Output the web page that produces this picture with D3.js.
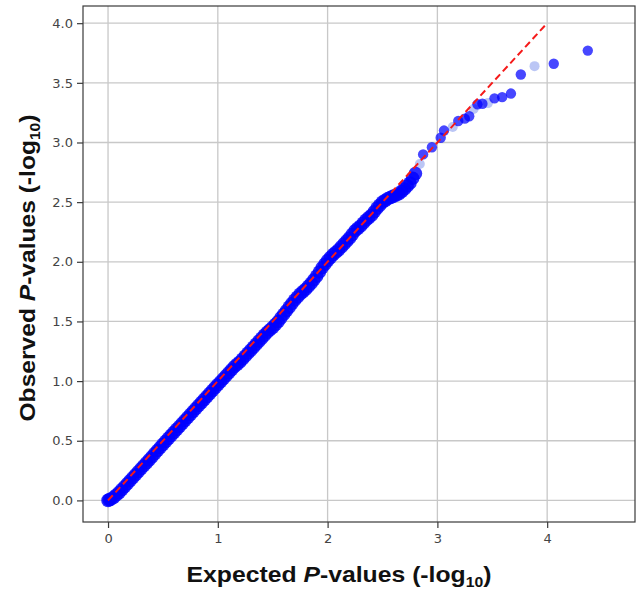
<!DOCTYPE html>
<html>
<head>
<meta charset="utf-8">
<script src="https://cdn.jsdelivr.net/npm/d3@7"></script>
<style>
  body { margin: 0; background: #fff; }
  svg { display: block; }
</style>
</head>
<body>
<div class="qq-wrapper"></div>
<script>
// expected vs observed -log10 p
const expected = [0.000, 0.010, 0.025, 0.050, 0.075, 0.100, 0.125, 0.150, 0.175, 0.200, 0.225,
  0.250, 0.275, 0.300, 0.325, 0.350, 0.375, 0.400, 0.425, 0.450, 0.475,
  0.500, 0.525, 0.550, 0.575, 0.600, 0.625, 0.650, 0.675, 0.700, 0.725,
  0.750, 0.775, 0.800, 0.825, 0.850, 0.875, 0.900, 0.925, 0.950, 0.975,
  1.000, 1.025, 1.050, 1.075, 1.100, 1.125, 1.150, 1.175, 1.200, 1.225,
  1.250, 1.275, 1.300, 1.325, 1.350, 1.375, 1.400, 1.425, 1.450, 1.475,
  1.500, 1.525, 1.550, 1.575, 1.600, 1.625, 1.650, 1.675, 1.700, 1.725,
  1.750, 1.775, 1.800, 1.825, 1.850, 1.875, 1.900, 1.925, 1.950, 1.975,
  2.000, 2.025, 2.050, 2.075, 2.100, 2.125, 2.150, 2.175, 2.200, 2.225,
  2.250, 2.275, 2.300, 2.325, 2.350, 2.375, 2.400, 2.425, 2.450, 2.475,
  2.500, 2.525, 2.550, 2.575, 2.600, 2.625, 2.650, 2.675, 2.700, 2.725,
  2.750, 2.775, 2.800, 2.870, 2.950, 3.030,
  3.060, 3.190, 3.250, 3.290, 3.365, 3.410, 3.520, 3.590, 3.670, 3.760,
  4.060, 4.370]
const observed = [0.000, 0.005, 0.010, 0.025, 0.045, 0.065, 0.090, 0.115, 0.140, 0.165, 0.190,
  0.215, 0.240, 0.265, 0.290, 0.315, 0.340, 0.365, 0.392, 0.418, 0.444,
  0.470, 0.495, 0.520, 0.545, 0.570, 0.595, 0.620, 0.645, 0.670, 0.695,
  0.720, 0.745, 0.770, 0.795, 0.820, 0.845, 0.870, 0.895, 0.920, 0.945,
  0.970, 0.995, 1.020, 1.045, 1.070, 1.095, 1.120, 1.140, 1.160, 1.185,
  1.210, 1.235, 1.260, 1.285, 1.310, 1.335, 1.360, 1.385, 1.410, 1.430,
  1.450, 1.475, 1.500, 1.530, 1.560, 1.590, 1.620, 1.650, 1.680, 1.705,
  1.730, 1.750, 1.770, 1.795, 1.820, 1.850, 1.880, 1.915, 1.950, 1.980,
  2.010, 2.035, 2.060, 2.080, 2.100, 2.125, 2.150, 2.175, 2.200, 2.230,
  2.260, 2.280, 2.300, 2.325, 2.350, 2.370, 2.390, 2.420, 2.450, 2.475,
  2.500, 2.515, 2.530, 2.540, 2.550, 2.560, 2.570, 2.590, 2.610, 2.635,
  2.660, 2.700, 2.740, 2.900, 2.960, 3.040,
  3.100, 3.180, 3.200, 3.220, 3.320, 3.325, 3.370, 3.380, 3.410, 3.570,
  3.660, 3.770]

// paler points
const fadedExpected = [2.84, 3.14, 3.33, 3.46, 3.885]
const fadedObserved = [2.82, 3.13, 3.28, 3.33, 3.64]

const xTicks = [0, 1, 2, 3, 4]
const yTicks = [0.0, 0.5, 1.0, 1.5, 2.0, 2.5, 3.0, 3.5, 4.0]
const diagonal = [0, 4]

const width = 640, height = 592
const plot = {left: 83, right: 635, top: 6, bottom: 522}

const svg = d3.select('.qq-wrapper')
  .append('svg')
  .attr('width', width)
  .attr('height', height)

const x = d3.scaleLinear().domain([-0.228, 4.80]).range([plot.left, plot.right])
const y = d3.scaleLinear().domain([-0.181, 4.144]).range([plot.bottom, plot.top])

// grid
const grid = svg.append('g')
grid.selectAll('.vx')
  .data(xTicks).enter().append('line')
  .attr('x1', d => x(d)).attr('x2', d => x(d))
  .attr('y1', plot.top).attr('y2', plot.bottom)
  .attr('stroke', '#c8c8c8').attr('stroke-width', 1.3)
grid.selectAll('.hy')
  .data(yTicks).enter().append('line')
  .attr('y1', d => y(d)).attr('y2', d => y(d))
  .attr('x1', plot.left).attr('x2', plot.right)
  .attr('stroke', '#c8c8c8').attr('stroke-width', 1.3)

// points
const points = expected.map((e, i) => ({e: e, o: observed[i]}))
const faded = fadedExpected.map((e, i) => ({e: e, o: fadedObserved[i]}))

svg.append('g').selectAll('circle')
  .data(faded).enter().append('circle')
  .attr('cx', d => x(d.e)).attr('cy', d => y(d.o))
  .attr('r', 5)
  .attr('fill', '#8ea0ee').attr('fill-opacity', 0.6)

// dense band first, sparse tail on top
svg.append('g').selectAll('circle')
  .data(points).enter().append('circle')
  .attr('cx', d => x(d.e)).attr('cy', d => y(d.o))
  .attr('r', d => d.e < 2.85 ? 6.8 : 5.2)
  .attr('fill', 'blue').attr('fill-opacity', d => d.e < 2.85 ? 0.82 : 0.72)

// y = x reference
svg.append('line')
  .attr('x1', x(diagonal[0])).attr('y1', y(diagonal[0]))
  .attr('x2', x(diagonal[1])).attr('y2', y(diagonal[1]))
  .attr('stroke', '#f51a1a').attr('stroke-width', 2)
  .attr('stroke-dasharray', '7,4')

// frame
svg.append('rect')
  .attr('x', plot.left).attr('y', plot.top)
  .attr('width', plot.right - plot.left).attr('height', plot.bottom - plot.top)
  .attr('fill', 'none').attr('stroke', '#3a3a3a').attr('stroke-width', 1.2)

// axes
const xAxis = svg.append('g')
  .attr('transform', `translate(0,${plot.bottom})`)
  .call(d3.axisBottom(x).tickValues(xTicks).tickSize(6).tickPadding(6).tickFormat(d3.format('d')))
const yAxis = svg.append('g')
  .attr('transform', `translate(${plot.left},0)`)
  .call(d3.axisLeft(y).tickValues(yTicks).tickSize(6).tickPadding(4).tickFormat(d3.format('.1f')))

svg.selectAll('.domain').remove()
svg.selectAll('.tick line').attr('stroke', '#3a3a3a').attr('stroke-width', 1.2)
svg.selectAll('.tick text')
  .attr('fill', '#444')
  .style('font-family', 'DejaVu Sans')
  .style('font-size', '13px')

// axis titles
function title(sel, word) {
  sel.style('font-family', '"Liberation Sans", Arial, sans-serif')
    .style('font-weight', 'bold')
    .style('font-size', '22px')
    .attr('text-anchor', 'middle')
    .attr('fill', '#111')
  sel.append('tspan').text(word + ' ')
  sel.append('tspan').style('font-style', 'italic').text('P')
  sel.append('tspan').text('-values (-log')
  sel.append('tspan').attr('dy', 5).style('font-size', '14px').text('10')
  sel.append('tspan').attr('dy', -5).text(')')
}

svg.append('text')
  .attr('x', 339).attr('y', 582)
  .attr('textLength', 305).attr('lengthAdjust', 'spacingAndGlyphs')
  .call(title, 'Expected')

svg.append('text')
  .attr('transform', 'translate(35,268) rotate(-90)')
  .attr('textLength', 307).attr('lengthAdjust', 'spacingAndGlyphs')
  .call(title, 'Observed')
</script>
</body>
</html>
